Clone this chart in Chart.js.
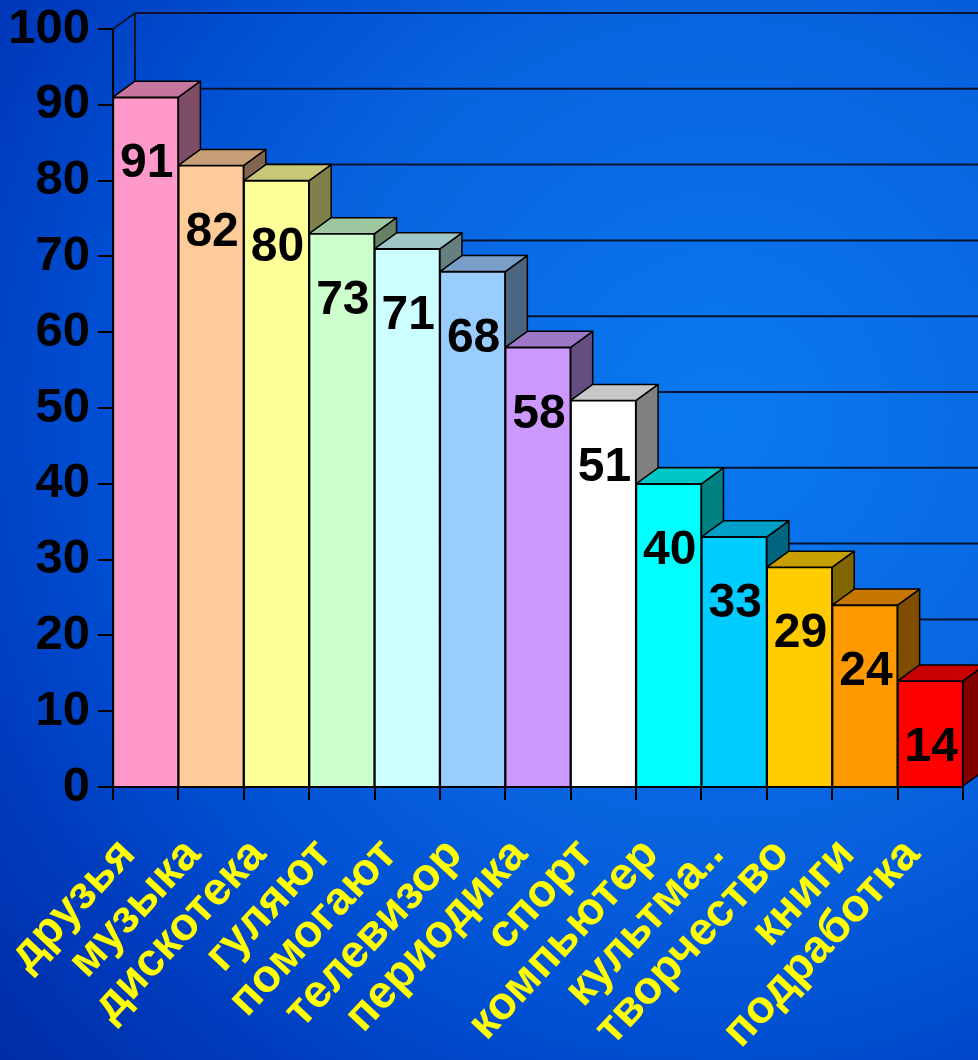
<!DOCTYPE html>
<html>
<head>
<meta charset="utf-8">
<script src="https://cdn.jsdelivr.net/npm/chart.js@4/dist/chart.umd.min.js"></script>
<style>
  html, body { margin: 0; padding: 0; background: #0038b8; }
  canvas { display: block; }
</style>
</head>
<body>
<canvas id="c" width="978" height="1060"></canvas>
<script>
// ---- data ----
const categories = ["друзья", "музыка", "дискотека", "гуляют", "помогают", "телевизор",
  "периодика", "спорт", "компьютер", "культма..", "творчество", "книги", "подработка"];
const values = [91, 82, 80, 73, 71, 68, 58, 51, 40, 33, 29, 24, 14];
const yTickValues = [0, 10, 20, 30, 40, 50, 60, 70, 80, 90, 100];

// ---- style ----
const frontColors = ["#FF99CC", "#FFCC99", "#FFFF99", "#CCFFCC", "#CCFFFF", "#99CCFF",
  "#CC99FF", "#FFFFFF", "#00FFFF", "#00CCFF", "#FFCC00", "#FF9900", "#FF0000"];
const DX = 22, DY = 16;
const FONT = "'Liberation Sans', Arial, sans-serif";

function shade(hex, f) {
  const n = parseInt(hex.slice(1), 16);
  const r = Math.round(((n >> 16) & 255) * f);
  const g = Math.round(((n >> 8) & 255) * f);
  const b = Math.round((n & 255) * f);
  return `rgb(${r},${g},${b})`;
}

const bgPlugin = {
  id: 'bg',
  beforeDraw(chart) {
    const ctx = chart.ctx;
    const g = ctx.createRadialGradient(720, 420, 0, 720, 420, 950);
    g.addColorStop(0, '#0A7AF0');
    g.addColorStop(0.45, '#0862DE');
    g.addColorStop(0.66, '#004ED2');
    g.addColorStop(0.8, '#003EC0');
    g.addColorStop(0.94, '#0032B0');
    g.addColorStop(1, '#002EA6');
    ctx.save();
    ctx.fillStyle = g;
    ctx.fillRect(0, 0, chart.width, chart.height);
    ctx.restore();
  }
};

const threeD = {
  id: 'threeD',
  beforeDatasetsDraw(chart) {
    const ctx = chart.ctx;
    const ys = chart.scales.y;
    const area = chart.chartArea;
    ctx.save();
    ctx.strokeStyle = '#0A1430';
    ctx.lineWidth = 2;
    yTickValues.forEach(v => {
      const y = ys.getPixelForValue(v) - DY;
      ctx.beginPath();
      ctx.moveTo(area.left + DX, y);
      ctx.lineTo(chart.width, y);
      ctx.stroke();
    });
    ctx.beginPath();
    ctx.moveTo(area.left + DX, area.top - DY);
    ctx.lineTo(area.left + DX, area.bottom - DY);
    ctx.moveTo(area.left, area.top);
    ctx.lineTo(area.left + DX, area.top - DY);
    ctx.stroke();

    const meta = chart.getDatasetMeta(0);
    ctx.strokeStyle = '#000';
    ctx.lineWidth = 1.5;
    ctx.lineJoin = 'round';
    meta.data.forEach((bar, i) => {
      const p = bar.getProps(['x', 'y', 'base', 'width'], true);
      const x0 = p.x - p.width / 2, x1 = p.x + p.width / 2;
      const yt = p.y, yb = p.base;
      ctx.beginPath();
      ctx.moveTo(x1, yt);
      ctx.lineTo(x1 + DX, yt - DY);
      ctx.lineTo(x1 + DX, yb - DY);
      ctx.lineTo(x1, yb);
      ctx.closePath();
      ctx.fillStyle = shade(frontColors[i], 0.5);
      ctx.fill();
      ctx.stroke();
      ctx.beginPath();
      ctx.moveTo(x0, yt);
      ctx.lineTo(x0 + DX, yt - DY);
      ctx.lineTo(x1 + DX, yt - DY);
      ctx.lineTo(x1, yt);
      ctx.closePath();
      ctx.fillStyle = shade(frontColors[i], 0.78);
      ctx.fill();
      ctx.stroke();
    });
    ctx.restore();
  },
  afterDatasetsDraw(chart) {
    const ctx = chart.ctx;
    const meta = chart.getDatasetMeta(0);
    ctx.save();
    ctx.fillStyle = '#000';
    ctx.font = `bold 48px ${FONT}`;
    ctx.textAlign = 'center';
    ctx.textBaseline = 'middle';
    meta.data.forEach((bar, i) => {
      const p = bar.getProps(['x', 'y'], true);
      ctx.fillText(String(values[i]), p.x + 1, p.y + 67);
    });
    ctx.restore();
  }
};

new Chart(document.getElementById('c'), {
  type: 'bar',
  data: {
    labels: categories,
    datasets: [{
      data: values,
      backgroundColor: frontColors,
      borderColor: '#000',
      borderWidth: 1.5,
      barPercentage: 1,
      categoryPercentage: 1
    }]
  },
  options: {
    responsive: false,
    devicePixelRatio: 1,
    animation: false,
    layout: { padding: { top: 29, right: 15, left: 0, bottom: 0 } },
    plugins: { legend: { display: false }, tooltip: { enabled: false } },
    scales: {
      x: {
        type: 'category',
        offset: true,
        grid: { offset: true, drawOnChartArea: false, tickLength: 13, color: '#000', lineWidth: 2 },
        border: { display: true, color: '#000', width: 2 },
        ticks: {
          color: '#FFFF00',
          font: { family: FONT, size: 46, weight: 'bold' },
          minRotation: 47, maxRotation: 47,
          autoSkip: false,
          padding: 28,
          labelOffset: -18
        },
        afterFit(scale) { scale.height = 273; scale.paddingLeft = 0; scale.paddingRight = 0; }
      },
      y: {
        min: 0, max: 100,
        afterBuildTicks(scale) { scale.ticks = yTickValues.map(v => ({ value: v })); },
        grid: { drawOnChartArea: false, tickLength: 15, color: '#000', lineWidth: 2 },
        border: { display: true, color: '#000', width: 2 },
        ticks: {
          color: '#000',
          font: { family: FONT, size: 49, weight: 'bold' },
          padding: 8
        },
        afterFit(scale) { scale.width = 113; scale.paddingTop = 0; scale.paddingBottom = 0; }
      }
    }
  },
  plugins: [bgPlugin, threeD]
});
</script>
</body>
</html>
